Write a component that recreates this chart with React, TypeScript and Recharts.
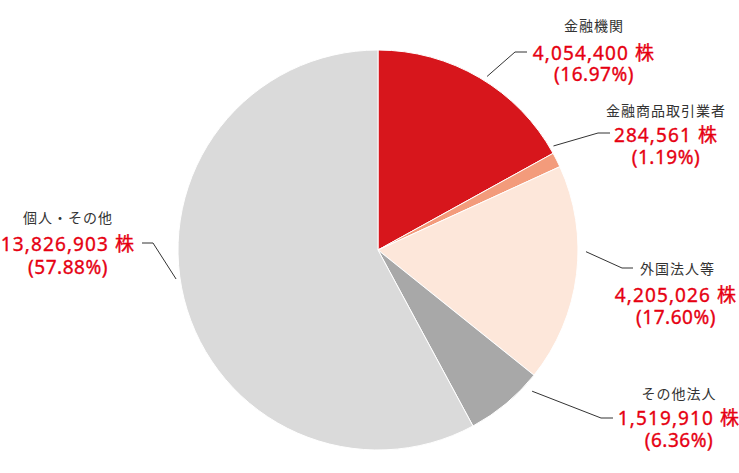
import React from "react";
import { PieChart, Pie, Cell } from "recharts";

const categories = ["金融機関", "金融商品取引業者", "外国法人等", "その他法人", "個人・その他"];
const shares = [4054400, 284561, 4205026, 1519910, 13826903];
const percents = ["16.97", "1.19", "17.60", "6.36", "57.88"];

const colors = ["#d7161c", "#f39b7b", "#fde7da", "#a8a8a8", "#dadada"];

// label placement (leader start shift in degrees clockwise, radius, elbow, end, text centre)
const labelLayout = [
  { shift: 1.6, r: 205, elbow: [515, 52], end: [527, 52], x: 594, nameY: 25, valueY: 53, pctY: 74 },
  { shift: -3.9, r: 204, elbow: [598, 133], end: [610, 133], x: 666, nameY: 110, valueY: 135, pctY: 157 },
  { shift: -6.6, r: 208, elbow: [622, 268], end: [633, 268], x: 676, nameY: 268, valueY: 295, pctY: 317 },
  { shift: -7.7, r: 209, elbow: [601, 418], end: [613, 418], x: 679, nameY: 393, valueY: 418, pctY: 440 },
  { shift: 6, r: 204, elbow: [153, 243], end: [142, 243], x: 68, nameY: 217, valueY: 244, pctY: 267 },
];

const data = categories.map((name, i) => ({
  name,
  value: shares[i],
  pct: percents[i],
}));

const RADIAN = Math.PI / 180;

const redText = {
  fill: "#e60012",
  stroke: "#e60012",
  strokeWidth: 0.35,
  fontSize: 19,
  fontFamily: "'Noto Sans', 'Noto Sans CJK JP', sans-serif",
};

const renderLabel = (props: any) => {
  const { cx, cy, midAngle, index } = props;
  const l = labelLayout[index];
  const a = (midAngle - l.shift) * RADIAN;
  const sx = cx + l.r * Math.cos(a);
  const sy = cy - l.r * Math.sin(a);
  const d = data[index];
  const nameX = index === 2 ? 640 : l.x;
  return (
    <g>
      <polyline
        points={`${sx},${sy} ${l.elbow[0]},${l.elbow[1]} ${l.end[0]},${l.end[1]}`}
        fill="none"
        stroke="#333"
        strokeWidth={1}
      />
      <text
        x={nameX}
        y={l.nameY}
        textAnchor={index === 2 ? "start" : "middle"}
        dominantBaseline="central"
        fill="#333"
        fontSize={14}
        letterSpacing={1}
        fontFamily="'Noto Sans CJK JP', 'Noto Sans', sans-serif"
      >
        {d.name}
      </text>
      <text
        x={l.x}
        y={l.valueY}
        textAnchor="middle"
        dominantBaseline="central"
        letterSpacing={1.1}
        {...redText}
      >
        {d.value.toLocaleString("en-US") + " 株"}
      </text>
      <text
        x={l.x}
        y={l.pctY}
        textAnchor="middle"
        dominantBaseline="central"
        letterSpacing={0.5}
        {...redText}
      >
        ({d.pct}%)
      </text>
    </g>
  );
};

const App = () => {
  return (
    <div style={{ width: 739, height: 473, background: "#fff" }}>
      <style>{"body{margin:0}"}</style>
      <PieChart width={739} height={473} margin={{ top: 0, right: 0, bottom: 0, left: 0 }}>
        <Pie
          data={data}
          dataKey="value"
          nameKey="name"
          cx={378}
          cy={250}
          outerRadius={200}
          startAngle={90}
          endAngle={-270}
          stroke="#fff"
          strokeWidth={1}
          label={renderLabel}
          labelLine={false}
          isAnimationActive={false}
        >
          {data.map((d, i) => (
            <Cell key={d.name} fill={colors[i]} />
          ))}
        </Pie>
      </PieChart>
    </div>
  );
};

export default App;
